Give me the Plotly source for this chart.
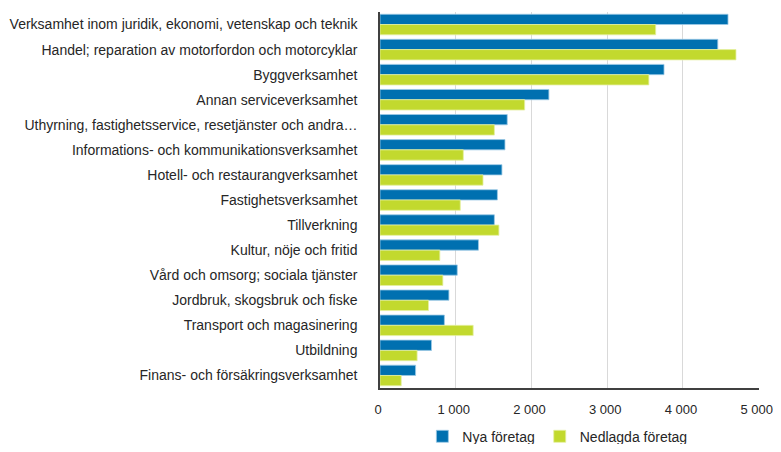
import plotly.graph_objects as go

categories = [
    "Verksamhet inom juridik, ekonomi, vetenskap och teknik",
    "Handel; reparation av motorfordon och motorcyklar",
    "Byggverksamhet",
    "Annan serviceverksamhet",
    "Uthyrning, fastighetsservice, resetjänster och andra…",
    "Informations- och kommunikationsverksamhet",
    "Hotell- och restaurangverksamhet",
    "Fastighetsverksamhet",
    "Tillverkning",
    "Kultur, nöje och fritid",
    "Vård och omsorg; sociala tjänster",
    "Jordbruk, skogsbruk och fiske",
    "Transport och magasinering",
    "Utbildning",
    "Finans- och försäkringsverksamhet",
]
nya = [4595, 4460, 3750, 2230, 1680, 1650, 1610, 1550, 1510, 1300, 1020, 910, 850, 680, 470]
nedlagda = [3640, 4700, 3550, 1910, 1510, 1100, 1360, 1060, 1570, 790, 830, 640, 1230, 490, 280]
x_ticks = [0, 1000, 2000, 3000, 4000, 5000]
x_ticktext = ["0", "1 000", "2 000", "3 000", "4 000", "5 000"]

fig = go.Figure()
fig.add_trace(go.Bar(y=categories, x=nya, orientation="h", name="Nya företag",
                     marker=dict(color="#0070B0", line=dict(color="#9CC9E6", width=0.8))))
fig.add_trace(go.Bar(y=categories, x=nedlagda, orientation="h", name="Nedlagda företag",
                     marker=dict(color="#C2D92E", line=dict(color="#E4EFA0", width=0.8))))

fig.update_layout(
    width=773, height=436,
    margin=dict(l=372, r=22, t=4, b=56, autoexpand=False),
    paper_bgcolor="white", plot_bgcolor="white",
    barmode="group", bargap=0.18, bargroupgap=0.0,
    font=dict(family="Liberation Sans, Arial", size=14, color="#262626"),
    legend=dict(orientation="h", x=0.468, xanchor="center", y=-0.087, yanchor="top",
                font=dict(size=14), itemwidth=30, traceorder="normal"),
    showlegend=True,
)
fig.update_xaxes(range=[0, 5004], tickvals=x_ticks, ticktext=x_ticktext,
                 showgrid=True, gridcolor="#D9D9D9", gridwidth=1,
                 showline=True, linecolor="#404040", linewidth=1.5,
                 zeroline=False, ticks="", ticklabelstandoff=9, automargin=False,
                 ticklabeloverflow="allow", tickfont=dict(size=13), ticklabelshift=-2)
fig.update_yaxes(autorange="reversed", showgrid=False, showline=True,
                 linecolor="#404040", linewidth=1.5, ticks="", ticklabelstandoff=18,
                 automargin=False)

fig.write_html("out.html")
